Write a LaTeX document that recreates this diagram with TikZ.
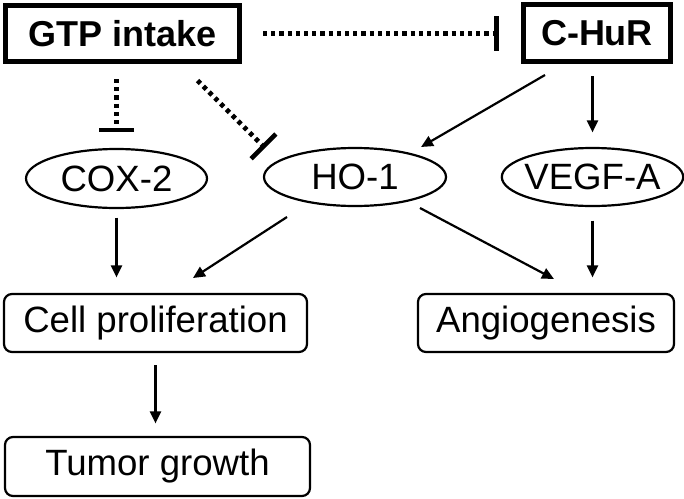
\documentclass[tikz,border=0pt]{standalone}
\usepackage{fontspec}
\setmainfont{Liberation Sans}
\usepackage{tikz}
\usetikzlibrary{shapes.geometric,arrows.meta}

\begin{document}
\begin{tikzpicture}[x=0.5pt,y=-0.5pt,
	every node/.style={font=\fontsize{18.3}{21}\selectfont,inner sep=0pt},
	mainbox/.style={draw,rectangle,line width=2.5pt,font=\fontsize{18}{21}\selectfont\bfseries},
	factor/.style={draw,ellipse,line width=1.1pt,inner xsep=-2pt},
	effect/.style={draw,rectangle,rounded corners=4pt,line width=1.1pt},
	act/.style={line width=1.1pt,-{Triangle[length=6pt,width=5.5pt]}},
	inhib/.style={line width=2.3pt,dash pattern=on 2.1pt off 2pt,-{Bar[width=17.5pt]}}]
			\useasboundingbox (0,0) rectangle (684,498);
			\coordinate (p_gtp) at (122.5,33.5);
			\coordinate (p_hur) at (597,33);
			\coordinate (p_cox) at (116.5,178.5);
			\coordinate (p_ho) at (355,177);
			\coordinate (p_vegf) at (592.5,177);
			\coordinate (p_prolif) at (155.5,323);
			\coordinate (p_angio) at (546,323);
			\coordinate (p_tumor) at (157.5,466.5);

			\node[mainbox,minimum width=117pt,minimum height=28pt] (gtp) at (p_gtp) {GTP intake};
			\node[mainbox,minimum width=73.5pt,minimum height=28.5pt] (hur) at (p_hur) {C-HuR};
			\node[factor,minimum width=90.5pt,minimum height=29.5pt] (cox) at (p_cox) {COX-2};
			\node[factor,minimum width=91pt,minimum height=29pt] (ho) at (p_ho) {HO-1};
			\node[factor,minimum width=89.5pt,minimum height=29pt] (vegf) at (p_vegf) {VEGF-A};
			\node[effect,minimum width=151.5pt,minimum height=29pt] (prolif) at (p_prolif) {Cell proliferation};
			\node[effect,minimum width=128pt,minimum height=29pt] (angio) at (p_angio) {Angiogenesis};
			\node[effect,minimum width=152.5pt,minimum height=29.5pt] (tumor) at (p_tumor) {Tumor growth};

			\draw[inhib,shorten <=10.5pt,shorten >=11pt] (gtp.east) -- (gtp.east -| hur.west);
			\draw[inhib,shorten <=7.5pt,shorten >=7.75pt] (cox.north |- gtp.south) -- (cox.north);
			\draw[inhib] ([shift={(75,47)}]gtp.center) -- ([shift={(-90,-29)}]ho.center);
			\draw[act] ([shift={(-52,42)}]hur.center) -- ([shift={(66,-30)}]ho.center);
			\draw[act,shorten <=6pt,shorten >=7.25pt] (vegf.north |- hur.south) -- (vegf.north);
			\draw[act,shorten <=4.25pt,shorten >=7.75pt] (cox.south) -- (cox.south |- prolif.north);
			\draw[act] ([shift={(-68,40)}]ho.center) -- ([shift={(37.5,-45)}]prolif.center);
			\draw[act] ([shift={(65,31)}]ho.center) -- ([shift={(8,-44)}]angio.center);
			\draw[act,shorten <=6.75pt,shorten >=7.75pt] (vegf.south) -- (vegf.south |- angio.north);
			\draw[act,shorten <=6pt,shorten >=6.25pt] (prolif.south) -- (prolif.south |- tumor.north);
		\end{tikzpicture}
\end{document}
